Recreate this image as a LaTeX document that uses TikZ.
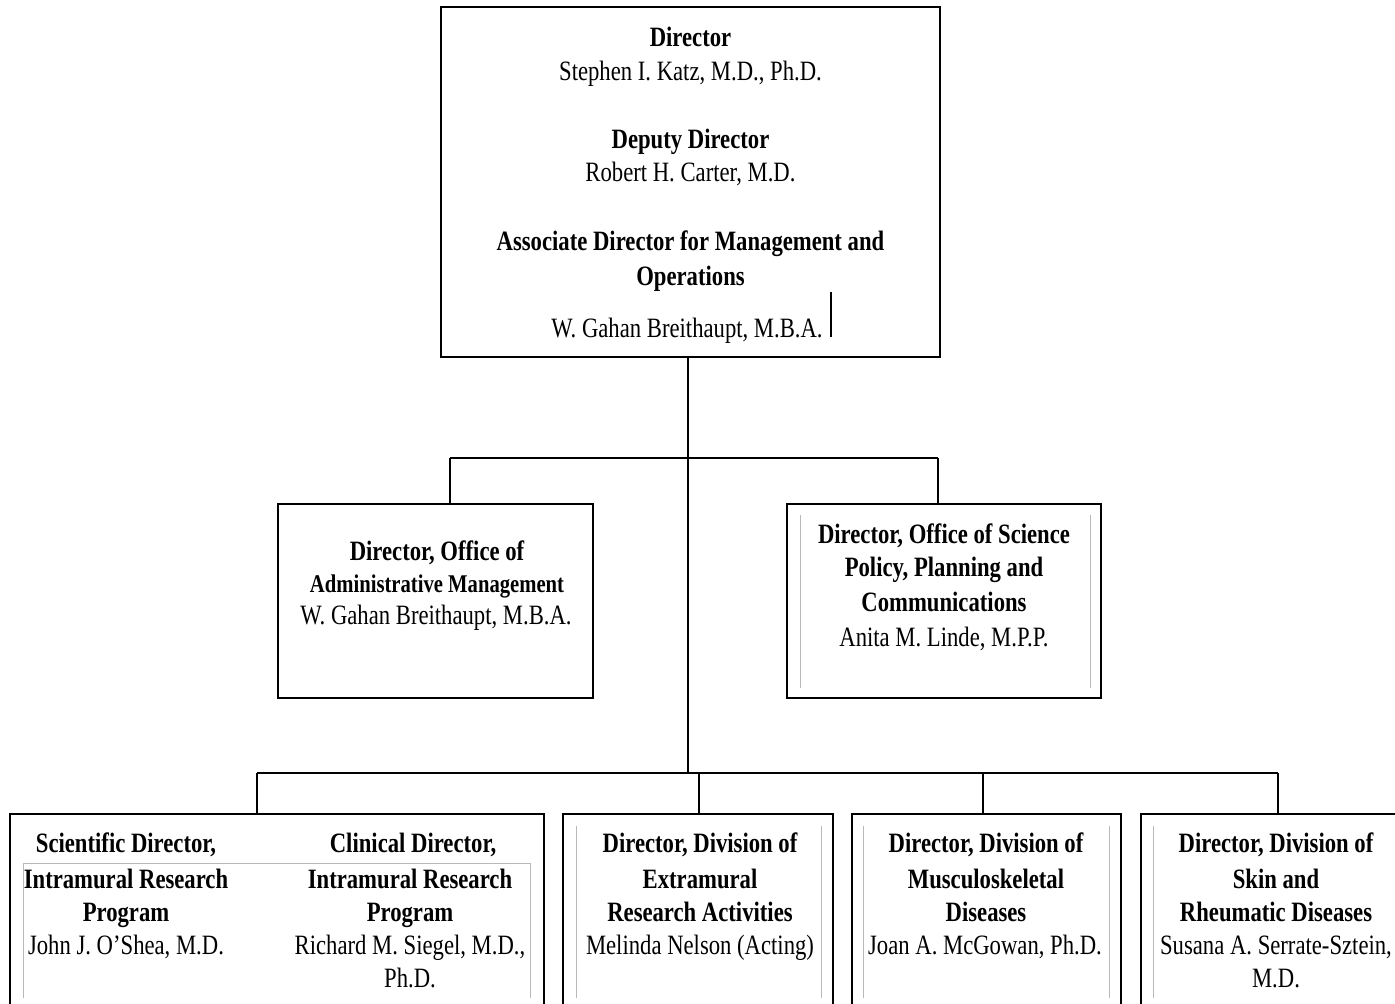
\documentclass[tikz,border=0pt]{standalone}
\usepackage{fontspec}
\setmainfont{Liberation Serif}[FakeStretch=0.81]
\begin{document}
\begin{tikzpicture}[x=1pt,y=-1pt,
  box/.style={draw=black, line width=2pt, rectangle, inner sep=0pt},
  conn/.style={draw=black, line width=2pt},
  inner/.style={draw=black!28, line width=1pt},
  txt/.style={anchor=base, inner sep=0pt, font=\fontsize{28}{32}\selectfont},
  txb/.style={txt, font=\fontsize{28}{32}\selectfont\bfseries},
  txs/.style={txt, font=\fontsize{25.5}{30}\selectfont\bfseries}]
\clip (0,0) rectangle (1395,1004);
\fill[white] (0,0) rectangle (1395,1004);

% boxes
\node[box, minimum width=499pt, minimum height=350pt] (top) at (690.5,182) {};
\node[box, minimum width=315pt, minimum height=194pt] (ml) at (435.5,601) {};
\node[box, minimum width=314pt, minimum height=194pt] (mr) at (944,601) {};
\node[box, minimum width=534pt, minimum height=201pt] (b1) at (277,914.5) {};
\node[box, minimum width=270pt, minimum height=201pt] (b2) at (698,914.5) {};
\node[box, minimum width=269pt, minimum height=201pt] (b3) at (986.5,914.5) {};
\node[box, minimum width=270pt, minimum height=201pt] (b4) at (1276,914.5) {};

% inner grey rules
\draw[inner] (800,515) -- (800,688);
\draw[inner] (1090,515) -- (1090,688);
\draw[inner] (23,998) -- (23,863) -- (530,863) -- (530,998);
\draw[inner] (576,826) -- (576,998);
\draw[inner] (821,826) -- (821,998);
\draw[inner] (863,826) -- (863,998);
\draw[inner] (1109,826) -- (1109,998);
\draw[inner] (1153,826) -- (1153,998);

% connectors
\coordinate (j1) at (688,458);
\coordinate (j2) at (688,773);
\coordinate (dl) at (450,458);
\coordinate (dr) at (938,458);
\coordinate (d1) at (257,773);
\coordinate (d2) at (699,773);
\coordinate (d3) at (983,773);
\coordinate (d4) at (1278,773);
\draw[conn] (top.south -| j1) -- (j2);
\draw[conn] (dl) -- (dr);
\draw[conn] (dl) -- (ml.north -| dl);
\draw[conn] (dr) -- (mr.north -| dr);
\draw[conn] (d1) -- (d4);
\draw[conn] (d1) -- (b1.north -| d1);
\draw[conn] (d2) -- (b2.north -| d2);
\draw[conn] (d3) -- (b3.north -| d3);
\draw[conn] (d4) -- (b4.north -| d4);

% top box text
\node[txb] (t1) at (690.5,46) {Director};
\node[txt] (t2) at (690.5,80) {Stephen I. Katz, M.D., Ph.D.};
\node[txb] (t3) at (690.5,148) {Deputy Director};
\node[txt] (t4) at (690.5,181) {Robert H. Carter, M.D.};
\node[txb] (t5) at (690.5,250) {Associate Director for Management and};
\node[txb] (t6) at (690.5,285) {Operations};
\node[txt] (t7) at (687,337) {W. Gahan Breithaupt, M.B.A.};
\draw[black, line width=2pt] (831,292) -- (831,337);

% middle left
\node[txb] (l1) at (437,560) {Director, Office of};
\node[txs] (l2) at (437,592) {Administrative Management};
\node[txt] (l3) at (436,624) {W. Gahan Breithaupt, M.B.A.};

% middle right
\node[txb] (r1) at (944,543) {Director, Office of Science};
\node[txb] (r2) at (944,576) {Policy, Planning and};
\node[txb] (r3) at (944,611) {Communications};
\node[txt] (r4) at (944,646) {Anita M. Linde, M.P.P.};

% bottom box 1
\node[txb] (a1) at (126,852) {Scientific Director,};
\node[txb] (a2) at (126,888) {Intramural Research};
\node[txb] (a3) at (126,921) {Program};
\node[txt] (a4) at (126,954) {John J. O’Shea, M.D.};
\node[txb] (c1) at (413,852) {Clinical Director,};
\node[txb] (c2) at (410,888) {Intramural Research};
\node[txb] (c3) at (410,921) {Program};
\node[txt] (c4) at (410,954) {Richard M. Siegel, M.D.,};
\node[txt] (c5) at (410,987) {Ph.D.};

% bottom box 2
\node[txb] (e1) at (700,852) {Director, Division of};
\node[txb] (e2) at (700,888) {Extramural};
\node[txb] (e3) at (700,921) {Research Activities};
\node[txt] (e4) at (700,954) {Melinda Nelson (Acting)};

% bottom box 3
\node[txb] (m1) at (986,852) {Director, Division of};
\node[txb] (m2) at (986,888) {Musculoskeletal};
\node[txb] (m3) at (986,921) {Diseases};
\node[txt] (m4) at (985,954) {Joan A. McGowan, Ph.D.};

% bottom box 4
\node[txb] (s1) at (1276,852) {Director, Division of};
\node[txb] (s2) at (1276,888) {Skin and};
\node[txb] (s3) at (1276,921) {Rheumatic Diseases};
\node[txt] (s4) at (1276,954) {Susana A. Serrate-Sztein,};
\node[txt] (s5) at (1276,987) {M.D.};
\end{tikzpicture}
\end{document}
